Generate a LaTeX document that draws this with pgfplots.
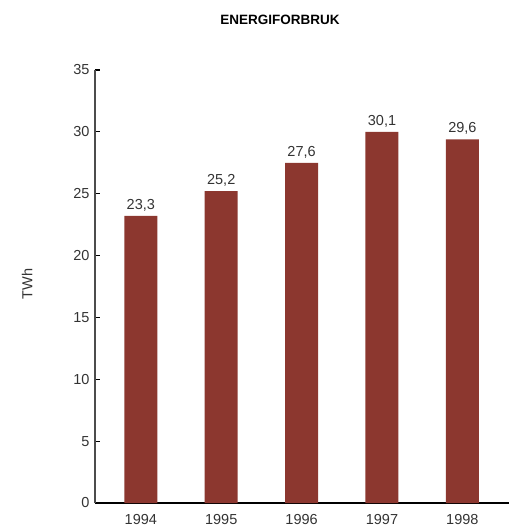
\documentclass[border=0pt]{standalone}
\usepackage{fontspec}
\setmainfont{Liberation Sans}
\usepackage{pgfplots}
\pgfplotsset{compat=1.18}
\definecolor{barred}{RGB}{140,55,47}
\begin{document}
\begin{tikzpicture}
\path[use as bounding box] (-95pt,-29pt) rectangle (414pt,503pt);
\begin{axis}[
  scale only axis, width=414pt, height=433pt,
  xmin=-0.57, xmax=4.58, ymin=0, ymax=35,
  axis x line*=bottom, axis y line*=left,
  x axis line style={line width=2.5pt, black},
  y axis line style={line width=2pt, black!70},
  xtick={0,1,2,3,4}, xticklabels={1994,1995,1996,1997,1998},
  x tick style={draw=none},
  ytick={0,5,...,35},
  tick align=inside, major tick length=5pt,
  y tick style={line width=1.2pt, black},
  tick label style={font=\fontsize{14.5}{14.5}\selectfont, text=black!80},
  yticklabel style={xshift=-2pt},
  xticklabel style={yshift=-3pt},
  /pgf/number format/assume math mode=true,
  ybar, bar width=33pt,
  point meta=explicit symbolic,
  nodes near coords,
  every node near coord/.append style={font=\fontsize{14.5}{14.5}\selectfont, text=black!80, yshift=1pt},
  clip=false,
]
\addplot[fill=barred, draw=none] table[x=x, y=y, meta=lab] {
x y lab
0 23.2 {23,3}
1 25.2 {25,2}
2 27.5 {27,6}
3 30.0 {30,1}
4 29.4 {29,6}
};
\node[font=\bfseries\fontsize{13.5}{13.5}\selectfont] at (rel axis cs:0.447,1.115) {ENERGIFORBRUK};
\node[rotate=90, font=\fontsize{14.5}{14.5}\selectfont, text=black!80] at (rel axis cs:-0.164,0.506) {TWh};
\end{axis}
\end{tikzpicture}
\end{document}
